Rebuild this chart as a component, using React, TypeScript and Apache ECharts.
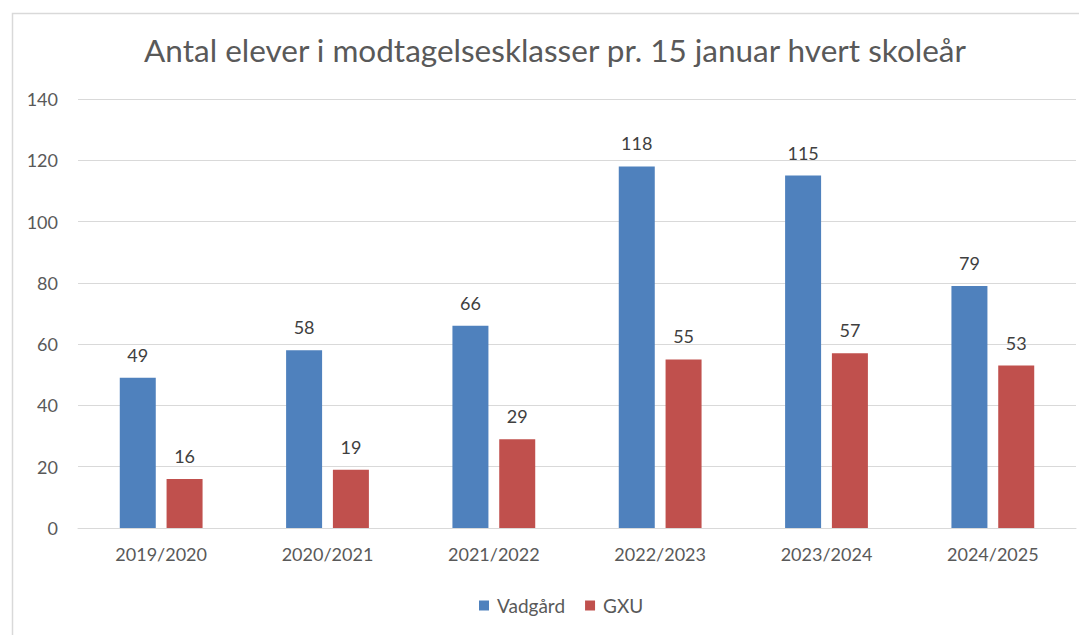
import React, { useEffect, useRef } from "react";
import * as echarts from "echarts";

const categories = ["2019/2020", "2020/2021", "2021/2022", "2022/2023", "2023/2024", "2024/2025"];
const vadgaard = [49, 58, 66, 118, 115, 79];
const gxu = [16, 19, 29, 55, 57, 53];
const titleText = "Antal elever i modtagelsesklasser pr. 15 januar hvert skoleår";

const FONT = "Lato, 'Open Sans', sans-serif";

export default function App() {
  const ref = useRef<HTMLDivElement>(null);
  useEffect(() => {
    if (!ref.current) return;
    const chart = echarts.init(ref.current, undefined, { renderer: "svg" });
    const label = {
      show: true,
      position: "top",
      distance: 14,
      color: "#404040",
      fontSize: 18,
      fontFamily: FONT,
    };
    chart.setOption({
      animation: false,
      backgroundColor: "#ffffff",
      textStyle: { fontFamily: FONT },
      graphic: [
        {
          type: "rect",
          left: 2,
          top: 3,
          shape: { width: 1200, height: 800 },
          style: { fill: "none", stroke: "#d9d9d9", lineWidth: 1.5 },
          silent: true,
          z: -1,
        },
        {
          type: "text",
          x: 547,
          y: 42,
          style: {
            text: titleText,
            fill: "#595959",
            fontSize: 31.5,
            fontFamily: FONT,
            align: "center",
            verticalAlign: "middle",
          },
        },
      ],
      grid: { left: 70, right: 11, top: 91, bottom: 107, containLabel: false },
      legend: {
        left: 466,
        top: 583,
        itemWidth: 10,
        itemHeight: 10,
        itemGap: 20,
        icon: "rect",
        textStyle: { color: "#595959", fontSize: 19, fontFamily: FONT, padding: [0, 0, 0, 3] },
        data: ["Vadgård", "GXU"],
      },
      xAxis: {
        type: "category",
        data: categories,
        axisLine: { lineStyle: { color: "#d9d9d9" } },
        axisTick: { show: false },
        axisLabel: { color: "#595959", fontSize: 18, fontFamily: FONT, margin: 17 },
      },
      yAxis: {
        type: "value",
        min: 0,
        max: 140,
        interval: 20,
        axisLine: { show: false },
        axisTick: { show: false },
        splitLine: { lineStyle: { color: "#d9d9d9" } },
        axisLabel: { color: "#595959", fontSize: 18, fontFamily: FONT, margin: 20 },
      },
      series: [
        {
          name: "Vadgård",
          type: "bar",
          data: vadgaard,
          barWidth: 36,
          barGap: "30%",
          itemStyle: { color: "#4f81bd" },
          label,
        },
        {
          name: "GXU",
          type: "bar",
          data: gxu,
          barWidth: 36,
          barGap: "30%",
          itemStyle: { color: "#c0504d" },
          label,
        },
      ],
    });
    return () => chart.dispose();
  }, []);
  return <div ref={ref} style={{ width: 1079, height: 627 }} />;
}
